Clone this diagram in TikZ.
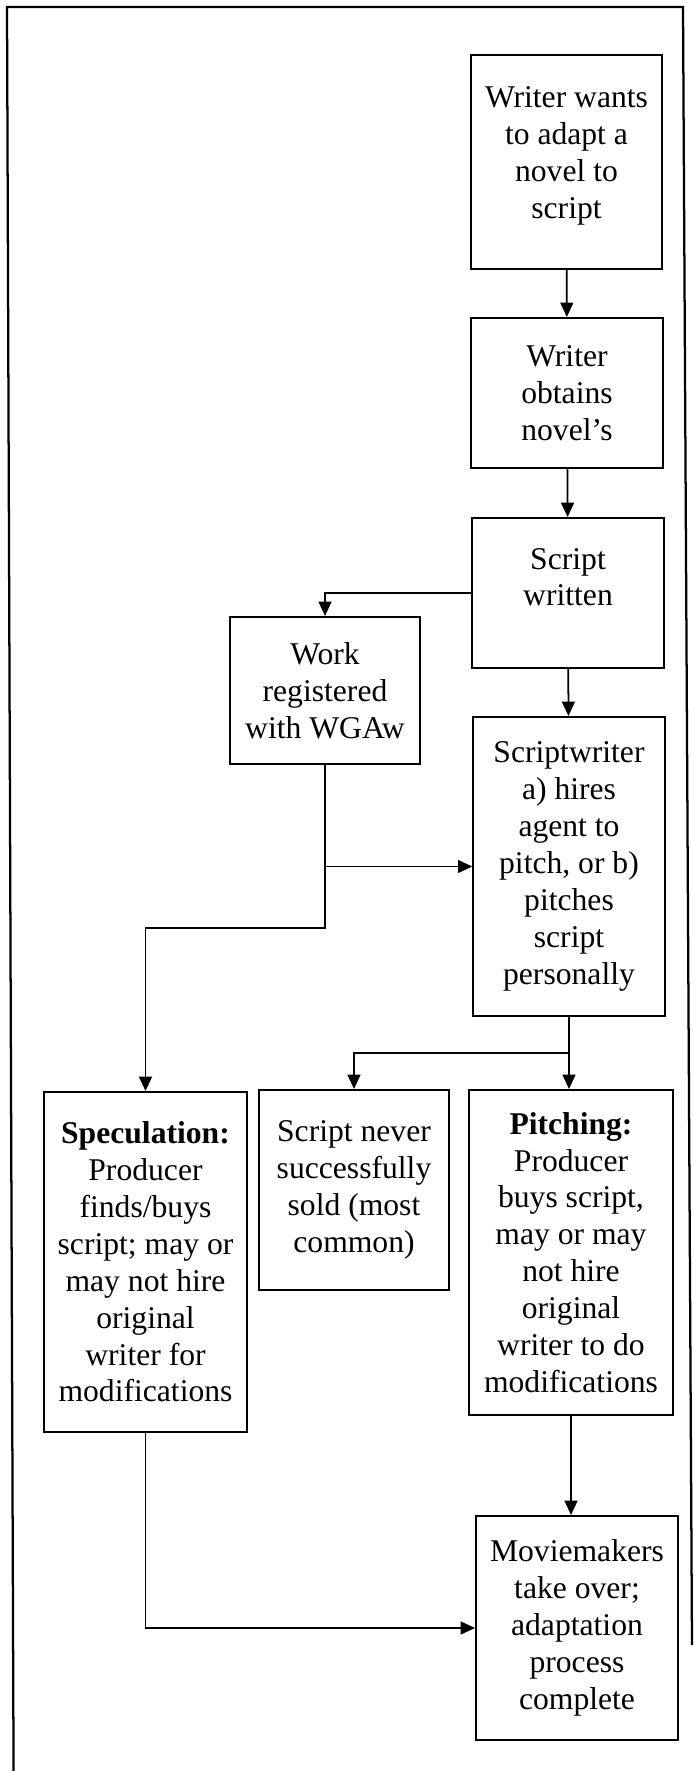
\documentclass[tikz,border=0pt]{standalone}
\usepackage{fontspec}
\setmainfont{Liberation Serif}
\usetikzlibrary{arrows.meta}

\begin{document}
\begin{tikzpicture}[
        >={Triangle[length=2mm, width=1.8mm]},
        box/.style={draw, line width=0.8pt, align=center, inner sep=2pt, font=\fontsize{12.6}{14.7}\selectfont},
        stage/.style={box, minimum width=26.8mm, minimum height=21mm},
        outcome/.style={box, minimum width=28.4mm},
        rel/.style={->, line width=0.7pt}
    ]
        \useasboundingbox (0, 0) rectangle (9.702, -24.794);
        \draw[line width=0.9pt] (0.19, -24.794) -- (0.098, -0.098) -- (9.562, -0.098) -- (9.688, -23.03);

        % top two boxes keep their text high up
        \node[stage, minimum height=29.96mm] (adapt) at (7.931, -2.268) {Writer wants\\to adapt a\\novel to\\script\\[-7pt]\mbox{}};
        \node[stage] (rights) at (7.938, -5.502) {Writer\\obtains\\novel’s};
        \node[stage] (written) at (7.952, -8.302) {Script\\written\\[-2pt]\mbox{}};

        \node[stage, minimum width=26.6mm, minimum height=20.6mm] (registered) at (4.550, -9.667) {Work\\registered\\with WGAw};
        \node[stage, minimum height=41.86mm] (pitch) at (7.966, -12.131) {Scriptwriter\\a) hires\\agent to\\pitch, or b)\\pitches\\script\\personally};

        \node[outcome, minimum height=47.6mm] (speculation) at (2.037, -17.668) {\textbf{Speculation:}\\Producer\\finds/buys\\script; may or\\may not hire\\original\\writer for\\modifications};
        \node[stage, minimum width=26.6mm, minimum height=28mm] (unsold) at (4.956, -16.660) {Script never\\successfully\\sold (most\\common)};
        \node[outcome, minimum width=28.56mm, minimum height=45.5mm] (pitching) at (7.994, -17.535) {\textbf{Pitching:}\\Producer\\buys script,\\may or may\\not hire\\original\\writer to do\\modifications};

        \node[outcome, minimum width=28.28mm, minimum height=31.36mm] (moviemakers) at (8.078, -22.792) {Moviemakers\\take over;\\adaptation\\process\\complete};

        \coordinate (spec-turn) at (2.037, -12.992);
        \coordinate (split) at (7.966, -14.742);

        \draw[rel] (adapt) -- (rights);
        \draw[rel] (rights) -- (written);
        \draw[rel] (written.west) -| (registered.north);
        \draw[rel] (written) -- (pitch);

        \draw[rel] (registered.south) |- (spec-turn) -- (speculation.north);
        \draw[rel] (registered.south |- pitch.west) -- (pitch.west);

        \draw[rel] (pitch.south) -- (pitch.south |- pitching.north);
        \draw[rel] (split) -| (unsold.north);

        \draw[rel] (pitching.south) -- (pitching.south |- moviemakers.north);
        \draw[rel] (speculation.south) |- (moviemakers.west);
    \end{tikzpicture}
\end{document}
